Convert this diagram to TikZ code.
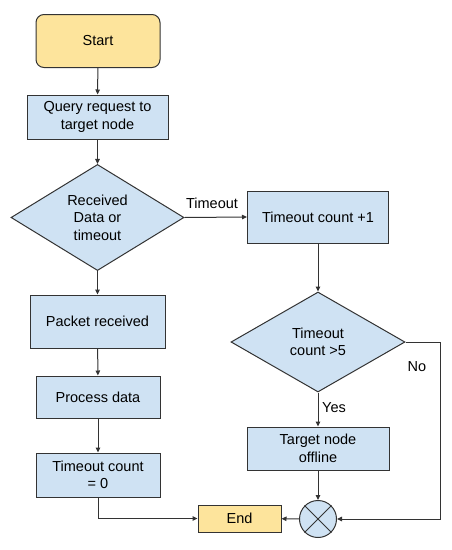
\documentclass[tikz,border=0pt]{standalone}
\usepackage{fontspec}
\setmainfont{Liberation Sans}
\usetikzlibrary{shapes.geometric,arrows.meta}
\definecolor{yel}{HTML}{FDE49C}
\definecolor{blu}{HTML}{CFE2F3}
\definecolor{ln}{HTML}{333333}
\begin{document}
\begin{tikzpicture}[x=1pt,y=-1pt, font=\fontsize{14.5}{17.5}\selectfont,
 box/.style={draw=ln, fill=blu, line width=1pt, align=center, inner sep=0pt},
 term/.style={box, fill=yel},
 dec/.style={diamond, draw=ln, fill=blu, line width=1pt, align=center, inner sep=0pt},
 arr/.style={draw=ln, line width=1pt, -{Triangle[length=5pt,width=4.5pt]}},
 lbl/.style={inner sep=1pt}]
\useasboundingbox (0,0) rectangle (452,550);
\node[term, rounded corners=8pt, minimum width=124pt, minimum height=53pt] (start) at (98,41) {Start};
\node[box, minimum width=141pt, minimum height=44pt] (query) at (97.5,117) {Query request to\\target node};
\node[dec, minimum width=173pt, minimum height=101pt] (recv) at (97.5,217.5) {Received\\Data or\\timeout};
\node[box, minimum width=141pt, minimum height=52pt] (inc) at (318,217) {Timeout count +1};
\node[dec, minimum width=174pt, minimum height=100pt] (gt) at (318,342) {Timeout\\count >5};
\node[box, minimum width=142pt, minimum height=43pt] (off) at (318,448.5) {Target node\\offline};
\node[circle, draw=ln, fill=blu, line width=1pt, minimum size=37pt, inner sep=0pt] (join) at (318,519) {};
\draw[ln, line width=1pt] (join.45)--(join.225) (join.135)--(join.315);
\node[term, minimum width=83pt, minimum height=27pt] (end) at (239.5,518.5) {End};
\node[box, minimum width=135pt, minimum height=53pt] (pkt) at (97.5,321.5) {Packet received};
\node[box, minimum width=124pt, minimum height=42pt] (proc) at (98,397) {Process data};
\node[box, minimum width=124pt, minimum height=44pt] (zero) at (98,475) {Timeout count\\= 0};
\coordinate (noc) at (440,342);
\node[lbl] (tlab) at (212,203) {Timeout};
\node[lbl] (nolab) at (417,367) {No};
\node[lbl] (yeslab) at (334,408) {Yes};
\draw[arr] (start) -- (query);
\draw[arr] (query) -- (recv);
\draw[arr] (recv.east) -- (inc.west);
\draw[arr] (recv) -- (pkt);
\draw[arr] (pkt) -- (proc);
\draw[arr] (proc) -- (zero);
\draw[arr] (zero.south) |- (end.west);
\draw[arr] (inc) -- (gt);
\draw[arr] (gt) -- (off);
\draw[arr] (off) -- (join);
\draw[arr] (gt.east) -- (noc) |- (join.east);
\draw[arr] (join) -- (end);
\end{tikzpicture}
\end{document}
